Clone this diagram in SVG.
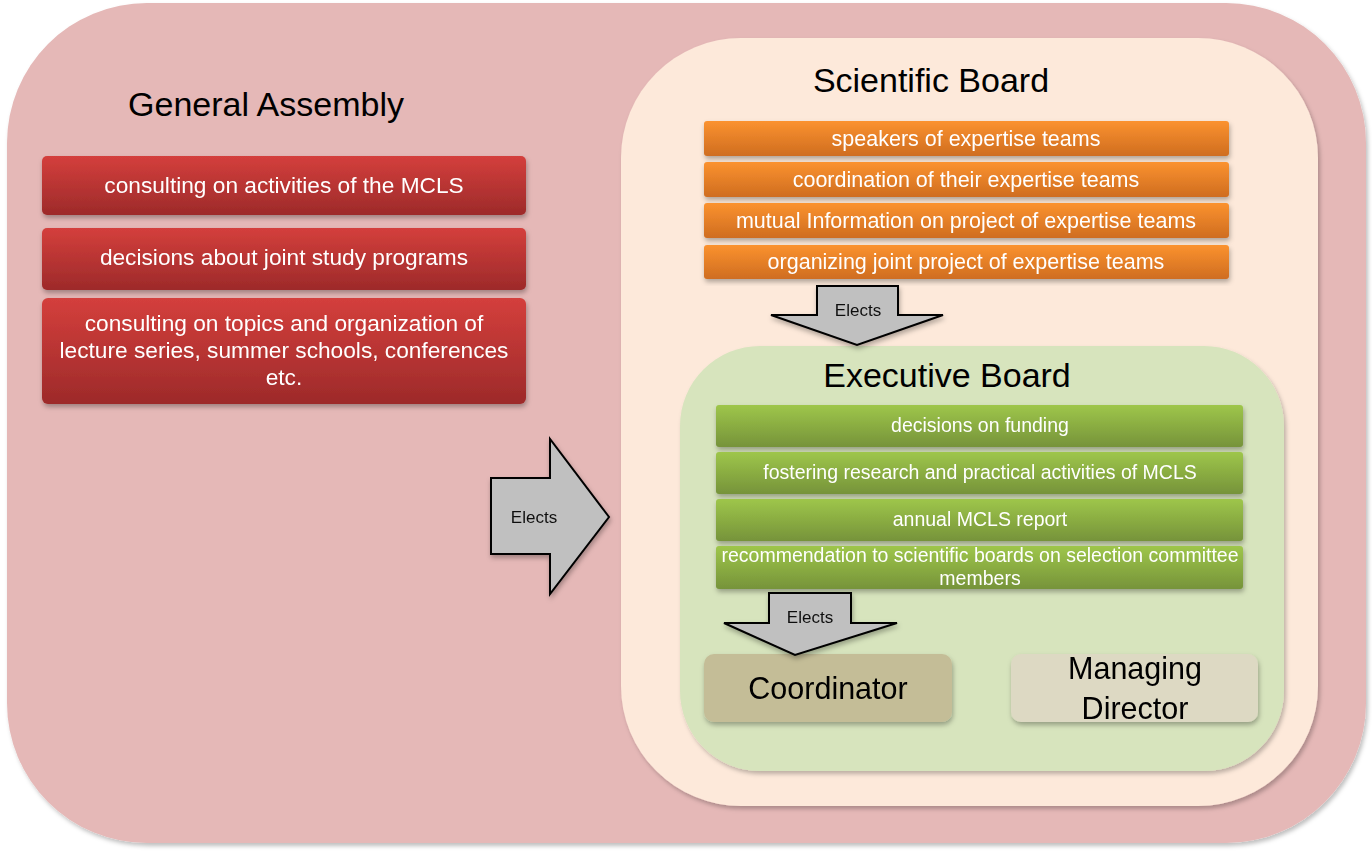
<svg xmlns="http://www.w3.org/2000/svg" width="1372" height="853" viewBox="0 0 1372 853">
<style>
.t{font-family:"Liberation Sans",Arial,sans-serif;text-anchor:middle}
.title{font-size:34px;fill:#000}
.w{fill:#fff}
.red{font-size:22.7px}
.org{font-size:21.5px}
.grn{font-size:19.5px}
.el{font-size:17px;fill:#111}
.big{font-size:30.5px;fill:#000}
.arr{fill:#c0c0c0;stroke:#000;stroke-width:2;stroke-linejoin:miter}
</style>
<defs>
<filter id="sh" x="-10%" y="-10%" width="120%" height="130%">
<feDropShadow dx="1" dy="3" stdDeviation="2.5" flood-color="#000" flood-opacity="0.3"/>
</filter>
<filter id="sh2" x="-5%" y="-5%" width="110%" height="110%">
<feDropShadow dx="2" dy="3" stdDeviation="2" flood-color="#000" flood-opacity="0.25"/>
</filter>
<linearGradient id="gr" x1="0" y1="0" x2="0" y2="1">
<stop offset="0" stop-color="#d43f3c"/><stop offset="1" stop-color="#9d2a2a"/>
</linearGradient>
<linearGradient id="go" x1="0" y1="0" x2="0" y2="1">
<stop offset="0" stop-color="#fb922f"/><stop offset="1" stop-color="#cf6d20"/>
</linearGradient>
<linearGradient id="gg" x1="0" y1="0" x2="0" y2="1">
<stop offset="0" stop-color="#9ec64a"/><stop offset="1" stop-color="#76933a"/>
</linearGradient>
</defs>

<g id="general-assembly">
<rect x="7" y="3" width="1359" height="840" rx="140" ry="140" fill="#e5b8b7" filter="url(#sh2)"/>
<text class="t title" x="266" y="116">General Assembly</text>
</g>

<g id="ga-items">
<g id="ga1" filter="url(#sh)"><rect x="42" y="156" width="484" height="59" rx="5" fill="url(#gr)"/>
<text class="t w red" x="284" y="193">consulting on activities of the MCLS</text></g>
<g id="ga2" filter="url(#sh)"><rect x="42" y="228" width="484" height="62" rx="5" fill="url(#gr)"/>
<text class="t w red" x="284" y="265">decisions about joint study programs</text></g>
<g id="ga3" filter="url(#sh)"><rect x="42" y="298" width="484" height="106" rx="6" fill="url(#gr)"/>
<text class="t w red" x="284" y="331">consulting on topics and organization of</text>
<text class="t w red" x="284" y="358">lecture series, summer schools, conferences</text>
<text class="t w red" x="284" y="385">etc.</text></g>
</g>

<g id="scientific-board">
<rect x="621" y="38" width="697" height="768" rx="120" ry="120" fill="#fde9da" filter="url(#sh2)"/>
<text class="t title" x="931" y="92">Scientific Board</text>
</g>

<g id="sb-items">
<g id="sb1" filter="url(#sh)"><rect x="704" y="121" width="525" height="35" rx="3" fill="url(#go)"/>
<text class="t w org" x="966" y="146">speakers of expertise teams</text></g>
<g id="sb2" filter="url(#sh)"><rect x="704" y="162" width="525" height="35" rx="3" fill="url(#go)"/>
<text class="t w org" x="966" y="187">coordination of their expertise teams</text></g>
<g id="sb3" filter="url(#sh)"><rect x="704" y="203" width="525" height="35" rx="3" fill="url(#go)"/>
<text class="t w org" x="966" y="228">mutual Information on project of expertise teams</text></g>
<g id="sb4" filter="url(#sh)"><rect x="704" y="245" width="525" height="34" rx="3" fill="url(#go)"/>
<text class="t w org" x="966" y="269">organizing joint project of expertise teams</text></g>
</g>

<g id="executive-board">
<rect x="680" y="346" width="604" height="425" rx="80" ry="80" fill="#d7e4bd" filter="url(#sh2)"/>
<text class="t title" x="947" y="387">Executive Board</text>
</g>

<g id="eb-items">
<g id="eb1" filter="url(#sh)"><rect x="716" y="405" width="527" height="42" rx="3" fill="url(#gg)"/>
<text class="t w grn" x="980" y="432">decisions on funding</text></g>
<g id="eb2" filter="url(#sh)"><rect x="716" y="452" width="527" height="42" rx="3" fill="url(#gg)"/>
<text class="t w grn" x="980" y="479">fostering research and practical activities of MCLS</text></g>
<g id="eb3" filter="url(#sh)"><rect x="716" y="499" width="527" height="42" rx="3" fill="url(#gg)"/>
<text class="t w grn" x="980" y="526">annual MCLS report</text></g>
<g id="eb4" filter="url(#sh)"><rect x="716" y="546" width="527" height="43" rx="3" fill="url(#gg)"/>
<text class="t w grn" x="980" y="562">recommendation to scientific boards on selection committee</text>
<text class="t w grn" x="980" y="585">members</text></g>
</g>

<g id="coordinator" filter="url(#sh)">
<rect x="704" y="654" width="248" height="68" rx="10" fill="#c4bd97"/>
<text class="t big" x="828" y="699">Coordinator</text>
</g>

<g id="managing-director" filter="url(#sh)">
<rect x="1011" y="654" width="247" height="68" rx="10" fill="#ddd9c3"/>
<text class="t big" x="1135" y="679">Managing</text>
<text class="t big" x="1135" y="719">Director</text>
</g>

<g id="connectors">
<g id="arrow-ga" filter="url(#sh)">
<path class="arr" d="M491,478 L550,478 L550,439 L609,517 L550,594 L550,554 L491,554 Z"/>
<text class="t el" x="534" y="523">Elects</text>
</g>
<g id="arrow-sb" filter="url(#sh)">
<path class="arr" d="M817,286 L898,286 L898,315 L943,315 L857,345 L771,315 L817,315 Z"/>
<text class="t el" x="858" y="316">Elects</text>
</g>
<g id="arrow-eb" filter="url(#sh)">
<path class="arr" d="M769,593 L851,593 L851,623 L897,623 L795,655 L724,623 L769,623 Z"/>
<text class="t el" x="810" y="623">Elects</text>
</g>
</g>
</svg>
